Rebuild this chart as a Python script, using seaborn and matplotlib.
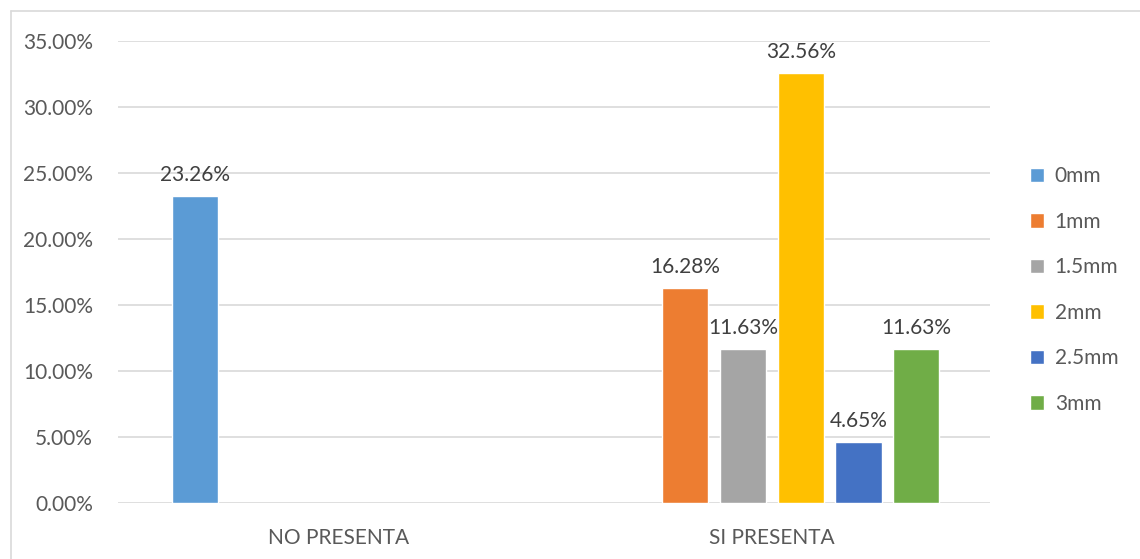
import matplotlib
matplotlib.use("Agg")
import matplotlib.pyplot as plt
import seaborn as sns
import pandas as pd
from matplotlib.lines import Line2D

categories = ["NO PRESENTA", "SI PRESENTA"]
series = ["0mm", "1mm", "1.5mm", "2mm", "2.5mm", "3mm"]
no_presenta = [23.26, None, None, None, None, None]
si_presenta = [None, 16.28, 11.63, 32.56, 4.65, 11.63]
colors = ["#5B9BD5", "#ED7D31", "#A5A5A5", "#FFC000", "#4472C4", "#70AD47"]
yticks = [0, 5, 10, 15, 20, 25, 30, 35]

rows = []
for cat, vals in zip(categories, [no_presenta, si_presenta]):
    for s, v in zip(series, vals):
        if v is not None:
            rows.append({"cat": cat, "serie": s, "val": v})
df = pd.DataFrame(rows)

sns.set_theme(style="white")
plt.rcParams["font.family"] = ["Lato", "DejaVu Sans"]

fig = plt.figure(figsize=(11.4, 5.59), dpi=100)
ax = fig.add_axes([118/1140, 1-503/559, 872/1140, 462/559])

sns.barplot(data=df, x="cat", y="val", hue="serie", order=categories,
            hue_order=series, palette=colors, width=0.8, gap=0.2,
            dodge=True, saturation=1, ax=ax, errorbar=None, zorder=3)

for c in ax.containers:
    ax.bar_label(c, fmt="%.2f%%", padding=8, fontsize=15, color="#404040")

ax.set_xlim(-0.5104, 1.5035)
ax.set_ylim(0, 35)
ax.set_yticks(yticks)
ax.set_yticklabels([f"{t:.2f}%" for t in yticks])
ax.set_xlabel("")
ax.set_ylabel("")
ax.grid(axis="y", color="#D9D9D9", linewidth=1.2, zorder=0)
ax.set_axisbelow(True)
for sp in ax.spines.values():
    sp.set_visible(False)
ax.tick_params(axis="y", length=0, pad=18, labelsize=15, labelcolor="#595959")
ax.tick_params(axis="x", length=0, pad=18, labelsize=15, labelcolor="#595959")

leg = ax.legend(loc="center left", bbox_to_anchor=(1011/1140, 1-290/559),
                bbox_transform=fig.transFigure, frameon=False,
                fontsize=15, labelcolor="#595959", handlelength=0.7,
                handleheight=0.7, handletextpad=0.5, labelspacing=1.22)

fig.add_artist(Line2D([11/1140, 1], [1-11/559, 1-11/559], color="#D9D9D9", lw=1.2, transform=fig.transFigure))
fig.add_artist(Line2D([11/1140, 11/1140], [0, 1-11/559], color="#D9D9D9", lw=1.2, transform=fig.transFigure))

fig.savefig("out.png", dpi=100)
